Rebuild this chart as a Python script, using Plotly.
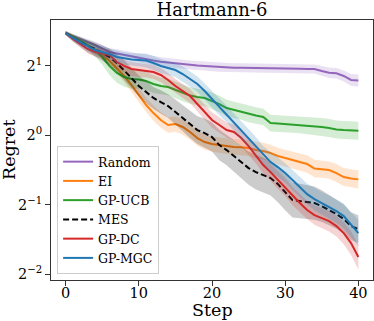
import numpy as np
import plotly.graph_objects as go

# regret, stored as log2(regret) per step
steps = list(range(41))

random_log2 = [1.467, 1.428, 1.385, 1.341, 1.298, 1.248, 1.197, 1.176, 1.154, 1.133,
               1.111, 1.097, 1.075, 1.058, 1.046, 1.032, 1.020, 1.010, 1.003, 0.996,
               0.988, 0.977, 0.974, 0.971, 0.970, 0.967, 0.968, 0.964, 0.963, 0.960,
               0.958, 0.957, 0.955, 0.954, 0.953, 0.924, 0.899, 0.891, 0.852, 0.794, 0.787]
ei_log2 = [1.471, 1.414, 1.356, 1.298, 1.226, 1.154, 1.068, 0.967, 0.852, 0.722,
           0.578, 0.434, 0.318, 0.218, 0.146, 0.160, 0.117, 0.045, -0.042, -0.099,
           -0.128, -0.143, -0.157, -0.171, -0.175, -0.186, -0.215, -0.229, -0.258, -0.301,
           -0.330, -0.359, -0.388, -0.416, -0.481, -0.488, -0.503, -0.546, -0.604, -0.625, -0.637]
ucb_log2 = [1.471, 1.414, 1.356, 1.298, 1.226, 1.125, 0.996, 0.895, 0.837, 0.808,
            0.801, 0.780, 0.736, 0.708, 0.693, 0.650, 0.607, 0.571, 0.549, 0.535,
            0.491, 0.448, 0.390, 0.362, 0.340, 0.304, 0.282, 0.261, 0.174, 0.167,
            0.160, 0.153, 0.146, 0.138, 0.131, 0.117, 0.102, 0.081, 0.073, 0.066, 0.063]
mes_log2 = [1.471, 1.399, 1.341, 1.284, 1.241, 1.183, 1.125, 1.039, 0.938, 0.823,
            0.708, 0.621, 0.535, 0.477, 0.419, 0.333, 0.246, 0.160, 0.073, 0.030,
            -0.027, -0.143, -0.215, -0.301, -0.388, -0.474, -0.532, -0.575, -0.618, -0.705,
            -0.820, -0.935, -0.950, -0.964, -0.978, -1.022, -1.079, -1.137, -1.209, -1.310, -1.353]
dc_log2 = [1.471, 1.385, 1.313, 1.241, 1.197, 1.176, 1.154, 1.053, 0.996, 0.952,
           0.938, 0.931, 0.909, 0.866, 0.794, 0.708, 0.635, 0.563, 0.448, 0.333,
           0.218, 0.146, 0.073, 0.045, -0.042, -0.157, -0.287, -0.431, -0.532, -0.647,
           -0.748, -0.878, -0.978, -1.079, -1.151, -1.195, -1.238, -1.310, -1.411, -1.555, -1.756]
mgc_log2 = [1.471, 1.399, 1.341, 1.284, 1.226, 1.197, 1.169, 1.125, 1.104, 1.089,
            1.082, 1.075, 1.039, 0.996, 0.967, 0.938, 0.880, 0.808, 0.736, 0.635,
            0.520, 0.405, 0.304, 0.189, 0.073, -0.042, -0.157, -0.287, -0.388, -0.460,
            -0.546, -0.647, -0.748, -0.849, -0.921, -0.978, -1.036, -1.094, -1.166, -1.295, -1.411]

# half width of the shaded bands, also in log2 units
random_err = [0.03, 0.035, 0.04, 0.045, 0.05, 0.05, 0.055, 0.06, 0.06, 0.06,
              0.065, 0.065, 0.065, 0.065, 0.065, 0.065, 0.065, 0.065, 0.065, 0.065,
              0.065, 0.065, 0.065, 0.065, 0.065, 0.065, 0.065, 0.065, 0.065, 0.065,
              0.065, 0.065, 0.065, 0.065, 0.065, 0.07, 0.075, 0.075, 0.08, 0.085, 0.085]
ei_err = [0.03, 0.035, 0.04, 0.045, 0.05, 0.06, 0.07, 0.08, 0.09, 0.1,
          0.1, 0.1, 0.11, 0.11, 0.11, 0.11, 0.11, 0.11, 0.11, 0.11,
          0.11, 0.11, 0.115, 0.115, 0.115, 0.115, 0.12, 0.12, 0.12, 0.12,
          0.12, 0.12, 0.12, 0.125, 0.125, 0.125, 0.125, 0.13, 0.13, 0.13, 0.13]
ucb_err = [0.03, 0.04, 0.05, 0.07, 0.09, 0.11, 0.13, 0.14, 0.14, 0.14,
           0.13, 0.13, 0.13, 0.12, 0.12, 0.12, 0.12, 0.12, 0.12, 0.12,
           0.12, 0.12, 0.12, 0.12, 0.12, 0.12, 0.12, 0.12, 0.12, 0.12,
           0.12, 0.12, 0.12, 0.12, 0.13, 0.13, 0.13, 0.13, 0.13, 0.13, 0.13]
mes_err = [0.03, 0.05, 0.07, 0.09, 0.1, 0.11, 0.12, 0.13, 0.14, 0.15,
           0.15, 0.16, 0.16, 0.17, 0.17, 0.18, 0.19, 0.2, 0.2, 0.21,
           0.21, 0.22, 0.22, 0.23, 0.23, 0.24, 0.25, 0.25, 0.25, 0.26,
           0.26, 0.25, 0.25, 0.24, 0.24, 0.23, 0.22, 0.21, 0.21, 0.2, 0.2]
dc_err = [0.03, 0.04, 0.05, 0.06, 0.07, 0.08, 0.08, 0.09, 0.09, 0.1,
          0.1, 0.1, 0.1, 0.1, 0.1, 0.1, 0.1, 0.1, 0.1, 0.11,
          0.11, 0.11, 0.11, 0.11, 0.12, 0.12, 0.12, 0.12, 0.12, 0.13,
          0.13, 0.13, 0.13, 0.13, 0.14, 0.14, 0.15, 0.15, 0.16, 0.17, 0.18]
mgc_err = [0.03, 0.04, 0.05, 0.06, 0.07, 0.08, 0.08, 0.09, 0.09, 0.09,
           0.09, 0.1, 0.1, 0.1, 0.1, 0.1, 0.11, 0.11, 0.11, 0.11,
           0.12, 0.12, 0.12, 0.12, 0.13, 0.13, 0.13, 0.13, 0.14, 0.14,
           0.14, 0.15, 0.15, 0.15, 0.16, 0.16, 0.17, 0.17, 0.18, 0.18, 0.19]

y_tickvals = [0.25, 0.5, 1, 2]
y_ticktext = ["2<sup>\u22122</sup>", "2<sup>\u22121</sup>", "2<sup>0</sup>", "2<sup>1</sup>"]
x_tickvals = [0, 10, 20, 30, 40]

series = [
    ("Random", random_log2, random_err, (148, 103, 189), "solid"),
    ("EI", ei_log2, ei_err, (255, 127, 14), "solid"),
    ("GP-UCB", ucb_log2, ucb_err, (44, 160, 44), "solid"),
    ("MES", mes_log2, mes_err, (0, 0, 0), "6px,3px"),
    ("GP-DC", dc_log2, dc_err, (214, 39, 40), "solid"),
    ("GP-MGC", mgc_log2, mgc_err, (31, 119, 180), "solid"),
]

FONT = "DejaVu Serif"

fig = go.Figure()
for name, mean, err, rgb, dash in series:
    m = np.array(mean)
    e = np.array(err)
    upper = np.exp2(m + e)
    lower = np.exp2(m - e)
    r, g, b = rgb
    fig.add_trace(go.Scatter(
        x=steps + steps[::-1],
        y=list(upper) + list(lower[::-1]),
        fill="toself", fillcolor=f"rgba({r},{g},{b},0.2)",
        line=dict(width=0), mode="lines", showlegend=False, hoverinfo="skip"))
    fig.add_trace(go.Scatter(
        x=steps, y=np.exp2(m), mode="lines", name=name,
        line=dict(color=f"rgb({r},{g},{b})", width=2, dash=dash)))

fig.update_layout(
    width=374, height=321,
    margin=dict(l=51, r=1, t=20, b=41),
    paper_bgcolor="white", plot_bgcolor="white",
    font=dict(family=FONT, color="black", size=14),
    title=dict(text="Hartmann-6", x=0.5, xref="paper", xanchor="center",
               y=1, yref="paper", yanchor="bottom", pad=dict(b=4),
               font=dict(family=FONT, size=18, color="black")),
    legend=dict(x=0.019, y=0.023, xanchor="left", yanchor="bottom",
                bgcolor="rgba(255,255,255,0.8)", bordercolor="#cccccc", borderwidth=1,
                font=dict(family=FONT, size=12.5, color="black")),
    annotations=[
        dict(text="Regret", xref="paper", yref="paper", x=0, y=0.5,
             xanchor="center", yanchor="middle", xshift=-42, textangle=-90,
             showarrow=False, font=dict(family=FONT, size=17.5)),
        dict(text="Step", xref="paper", yref="paper", x=0.5, y=0,
             xanchor="center", yanchor="bottom", yshift=-42,
             showarrow=False, font=dict(family=FONT, size=17.5)),
    ],
)
fig.update_xaxes(range=[-2, 42], tickvals=x_tickvals, showgrid=False, zeroline=False,
                 showline=True, mirror=True, linecolor="#333333", linewidth=1,
                 ticks="outside", ticklen=5, tickwidth=1, tickcolor="#333333",
                 ticklabelstandoff=-5,
                 tickfont=dict(family=FONT, size=14.5))
fig.update_yaxes(type="log", range=[np.log10(2) * -2.086, np.log10(2) * 1.658],
                 tickvals=y_tickvals, ticktext=y_ticktext, showgrid=False, zeroline=False,
                 showline=True, mirror=True, linecolor="#333333", linewidth=1,
                 ticks="outside", ticklen=5, tickwidth=1, tickcolor="#333333",
                 tickfont=dict(family=FONT, size=14.5))

# the page body has a default margin; drop it so the figure sits at the window corner
fig.write_html("out.html", config={"displayModeBar": False},
               post_script="document.body.style.margin='0';")
